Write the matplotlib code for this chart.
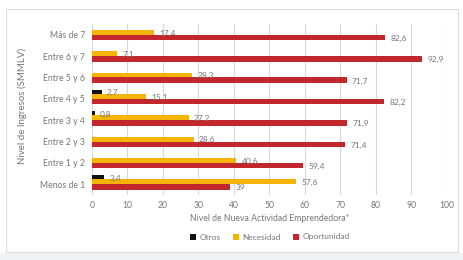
import matplotlib
matplotlib.use("Agg")
import matplotlib.pyplot as plt
import numpy as np
from matplotlib.patches import Rectangle

categories = ["Menos de 1", "Entre 1 y 2", "Entre 2 y 3", "Entre 3 y 4",
              "Entre 4 y 5", "Entre 5 y 6", "Entre 6 y 7", "Más de 7"]
otros = [3.4, 0, 0, 0.8, 2.7, 0, 0, 0]
necesidad = [57.6, 40.6, 28.6, 27.2, 15.1, 28.3, 7.1, 17.4]
oportunidad = [39, 59.4, 71.4, 71.9, 82.2, 71.7, 92.9, 82.6]
series_names = ["Otros", "Necesidad", "Oportunidad"]
xticks = [0, 10, 20, 30, 40, 50, 60, 70, 80, 90, 100]

plt.rcParams['font.family'] = ['Lato', 'DejaVu Sans']
txt = "#777777"

fig = plt.figure(figsize=(4.64, 2.60), dpi=100)
fig.patch.set_facecolor("white")
# frame
fig.patches.append(Rectangle((6/464, 1-252/260), 452/464, 243/260, transform=fig.transFigure,
                             facecolor="none", edgecolor="#dddddd", linewidth=0.8))
fig.patches.append(Rectangle((0, 0), 1, 7/260, transform=fig.transFigure,
                             facecolor="#eef2f4", edgecolor="none"))

ax = fig.add_axes([92/464, 1-195/260, 355/464, 171/260])
y = np.arange(len(categories))
heights = [0.2, 0.23, 0.26]
colors = ["#111111", "#f5b400", "#c1272d"]
offs = [0.23 + 0.1, 0.115, -0.13]

def fmt(v):
    s = ("%.1f" % v).replace(".", ",")
    if s.endswith(",0"):
        s = s[:-2]
    return s

for vals, c, off, hh, name in zip([otros, necesidad, oportunidad], colors, offs, heights, series_names):
    ax.barh(y + off, vals, height=hh, color=c, label=name, zorder=3)
    for yi, v in zip(y, vals):
        if v > 0:
            ax.text(v + 1.5, yi + off - 0.04, fmt(v), va="center", ha="left",
                    fontsize=6, color=txt, clip_on=False, zorder=4)

ax.set_xlim(0, 100)
ax.set_ylim(-0.5, len(categories) - 0.5)
ax.set_xticks(xticks)
ax.set_yticks(y)
ax.set_yticklabels(categories)
ax.tick_params(axis="both", length=0, labelsize=6.2, colors=txt, pad=5)
ax.tick_params(axis="x", pad=4)
for s in ax.spines.values():
    s.set_visible(False)
ax.grid(axis="x", color="#d8d8d8", linewidth=0.8, zorder=0)
ax.set_axisbelow(True)

ax.set_xlabel("Nivel de Nueva Actividad Emprendedora*", fontsize=6.2, color=txt, labelpad=3)
fig.text(22/464, 1-106/260, "Nivel de Ingresos (SMMLV)", rotation=90, ha="center",
         va="center", fontsize=7, color=txt)

leg = ax.legend(loc="center", bbox_to_anchor=(270/464, 1-237/260), bbox_transform=fig.transFigure,
                ncol=3, frameon=False, fontsize=6, handlelength=0.7, handleheight=0.7,
                handletextpad=0.4, columnspacing=1.5)
for t in leg.get_texts():
    t.set_color(txt)

fig.savefig("out.png", dpi=100)
